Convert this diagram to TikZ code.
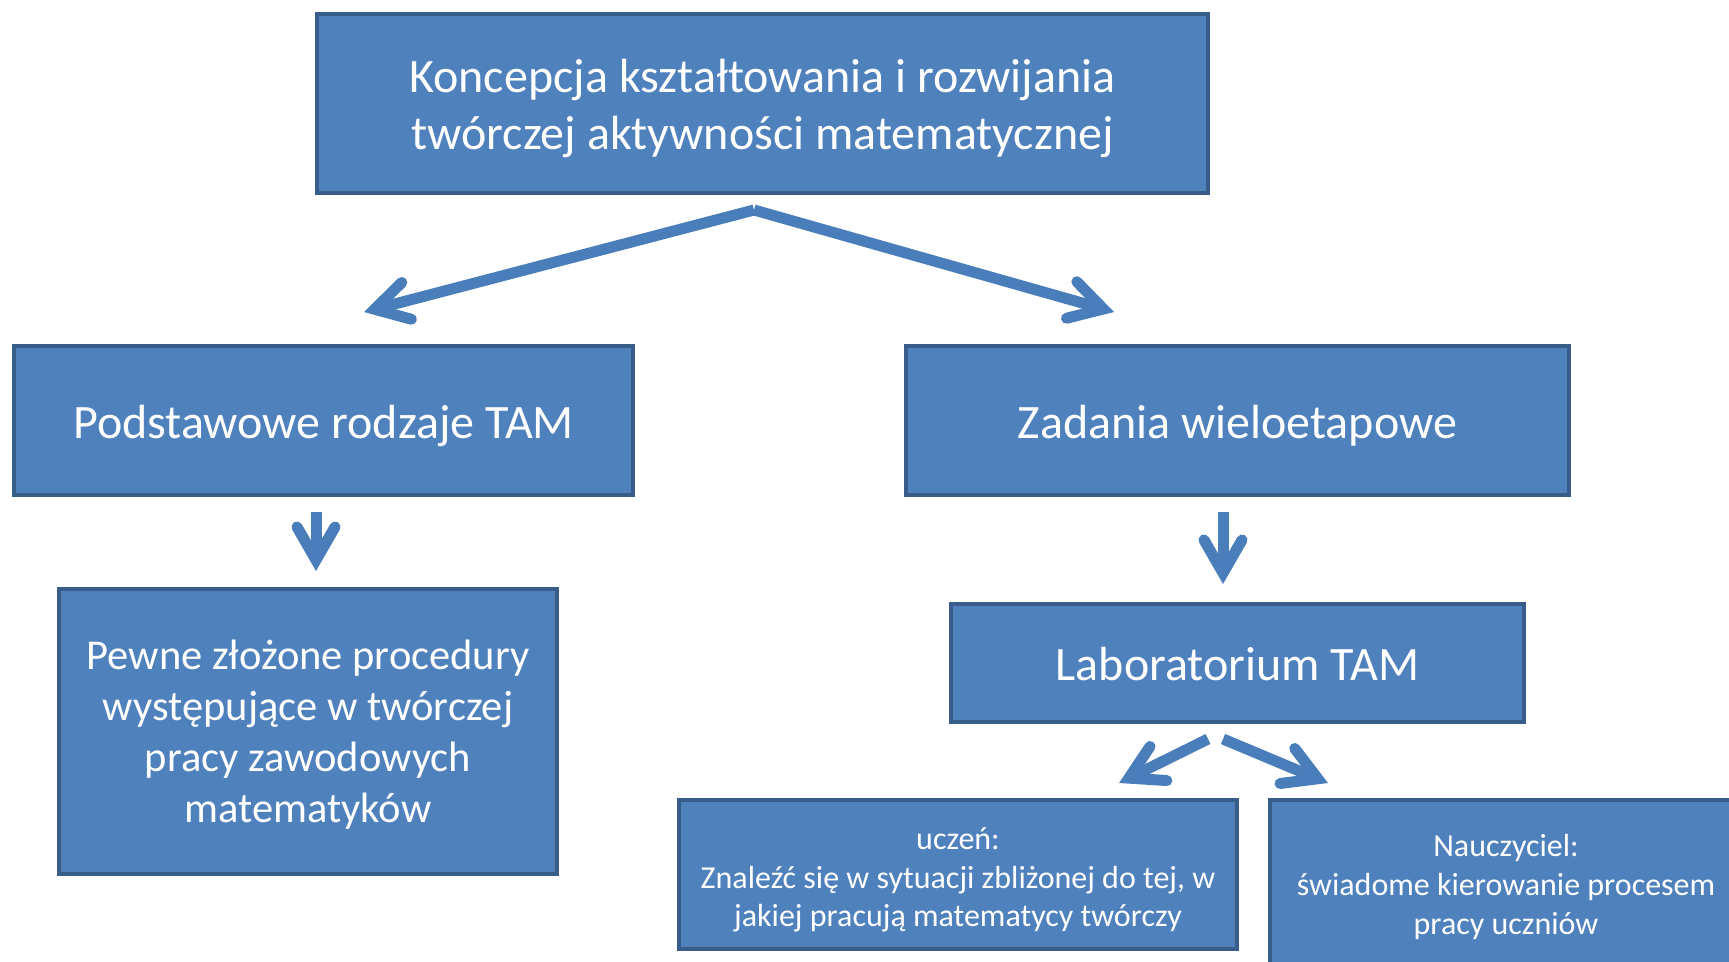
\documentclass[tikz,border=0pt]{standalone}
\usepackage{fontspec}
\setmainfont{Carlito}
\usetikzlibrary{arrows.meta}
\definecolor{boxfill}{HTML}{4F81BD}
\definecolor{boxline}{HTML}{385D8A}
\definecolor{arrowblue}{HTML}{4A7EBB}

\begin{document}
\begin{tikzpicture}[x=1pt,y=-1pt,
  box/.style={draw=boxline, line width=4pt, fill=boxfill, inner sep=0pt},
  label text/.style={text=white, align=center, inner sep=0pt},
  flow/.style={draw=arrowblue, line width=11pt, line cap=butt,
    -{Straight Barb[length=33pt,width=38pt,line cap=round,line join=miter]}},
  bigtext/.style={font=\fontsize{48}{57}\selectfont},
  midtext/.style={font=\fontsize{42.5}{51}\selectfont},
  smalltext/.style={font=\fontsize{32}{38.6}\selectfont}]
\useasboundingbox (0,0) rectangle (1729,961);
\clip (0,0) rectangle (1729,961);

% boxes
\node[box, minimum width=891pt, minimum height=179pt] (concept) at (762.5,103.5) {};
\node[box, minimum width=619pt, minimum height=149pt] (kinds) at (323.5,420.5) {};
\node[box, minimum width=663pt, minimum height=149pt] (tasks) at (1237.5,420.5) {};
\node[box, minimum width=498pt, minimum height=285pt] (proc) at (308,731.5) {};
\node[box, minimum width=573pt, minimum height=118pt] (lab) at (1237.5,663) {};
\node[box, minimum width=558pt, minimum height=149pt] (pupil) at (958,874.5) {};
\node[box, minimum width=472pt, minimum height=170pt] (teacher) at (1506,885) {};

% box texts
\node[label text, bigtext] (conceptText) at ([yshift=-4.5pt]concept.center)
  {Koncepcja kształtowania i rozwijania\\twórczej aktywności matematycznej};
\node[label text, bigtext] (kindsText) at ([yshift=-5.5pt]kinds.center)
  {Podstawowe rodzaje TAM};
\node[label text, bigtext] (tasksText) at ([yshift=-5.5pt]tasks.center)
  {Zadania wieloetapowe};
\node[label text, midtext] (procText) at ([yshift=-3.3pt]proc.center)
  {Pewne złożone procedury\\występujące w twórczej\\pracy zawodowych\\matematyków};
\node[label text, bigtext] (labText) at ([yshift=-1pt]lab.center)
  {Laboratorium TAM};
\node[label text, smalltext] (pupilText) at ([yshift=-5.5pt]pupil.center)
  {uczeń:\\Znaleźć się w sytuacji zbliżonej do tej, w\\jakiej pracują matematycy twórczy};
\node[label text, smalltext] (teacherText) at ([yshift=-2pt]teacher.center)
  {Nauczyciel:\\świadome kierowanie procesem\\pracy uczniów};

% connector end points
\coordinate (apex) at (754,210);
\coordinate (kindsIn) at (364,312);
\coordinate (tasksIn) at (1114,312);
\coordinate (kindsOut) at (316,512);
\coordinate (procIn) at (316,571);
\coordinate (tasksOut) at (1223,512);
\coordinate (labIn) at (1223,584);
\coordinate (labOutL) at (1208,739);
\coordinate (pupilIn) at (1119,783);
\coordinate (labOutR) at (1223,739);
\coordinate (teacherIn) at (1328,783);

% connectors
\draw[flow] (apex) -- (kindsIn);
\draw[flow] (apex) -- (tasksIn);
\draw[flow] (kindsOut) -- (procIn);
\draw[flow] (tasksOut) -- (labIn);
\draw[flow] (labOutL) -- (pupilIn);
\draw[flow] (labOutR) -- (teacherIn);
\end{tikzpicture}
\end{document}
